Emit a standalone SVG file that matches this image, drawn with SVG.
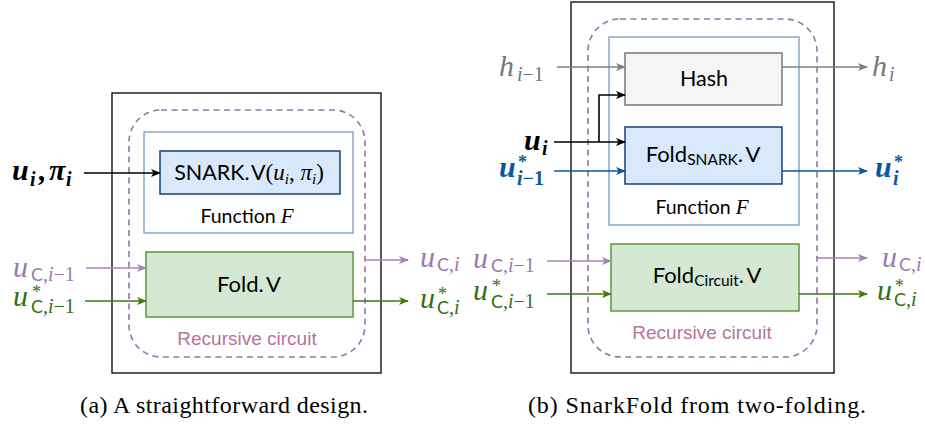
<svg xmlns="http://www.w3.org/2000/svg" width="925" height="429" viewBox="0 0 925 429">
  <defs>
    <style>
      .frame { fill: #ffffff; stroke: #000000; stroke-width: 1.3; }
      .dash { fill: none; stroke: #9673a6; stroke-width: 1.6; stroke-dasharray: 6 4.5; }
      .func { fill: #ffffff; stroke: #6c8ebf; stroke-width: 1.2; }
      .blue { fill: #dae8fc; stroke: #173f78; stroke-width: 1.5; }
      .green { fill: #d5e8d4; stroke: #5f9640; stroke-width: 1.5; }
      .gray { fill: #f5f5f5; stroke: #777777; stroke-width: 1.5; }
      .w { fill: none; stroke-width: 1.6; }
      .k { stroke: #000000; }
      .g { stroke: #808080; }
      .b { stroke: #0b56a4; }
      .p { stroke: #a680b8; }
      .gr { stroke: #3c7a12; }
      .sans { font-family: Lato, "Open Sans", sans-serif; fill: #000000; }
      .lbl { font-family: "Liberation Sans", Arial, sans-serif; font-size: 19px; fill: #b5739d; }
      .m { font-family: "Liberation Serif", serif; font-style: italic; font-size: 30px; }
      .s { font-size: 20px; }
      .up { font-style: normal; }
      .sc { font-family: Lato, sans-serif; font-style: normal; font-size: 18px; }
      .st { font-style: normal; font-size: 18px; }
      .bd { font-weight: bold; }
      .cap { font-family: "Liberation Serif", serif; font-size: 24px; fill: #000000; }
      .tp { fill: #9b77b0; }
      .tg { fill: #2f7010; }
      .tb { fill: #0b56a4; }
      .th { fill: #777777; }
    </style>
    <marker id="ak" viewBox="0 0 10 8" refX="9" refY="4" markerWidth="10" markerHeight="8" markerUnits="userSpaceOnUse" orient="auto">
      <path d="M0,0 L10,4 L0,8 L2.5,4 z" fill="#000000"/>
    </marker>
    <marker id="ag" viewBox="0 0 10 8" refX="9" refY="4" markerWidth="10" markerHeight="8" markerUnits="userSpaceOnUse" orient="auto">
      <path d="M0,0 L10,4 L0,8 L2.5,4 z" fill="#808080"/>
    </marker>
    <marker id="ab" viewBox="0 0 10 8" refX="9" refY="4" markerWidth="10" markerHeight="8" markerUnits="userSpaceOnUse" orient="auto">
      <path d="M0,0 L10,4 L0,8 L2.5,4 z" fill="#0b56a4"/>
    </marker>
    <marker id="ap" viewBox="0 0 10 8" refX="9" refY="4" markerWidth="10" markerHeight="8" markerUnits="userSpaceOnUse" orient="auto">
      <path d="M0,0 L10,4 L0,8 L2.5,4 z" fill="#a680b8"/>
    </marker>
    <marker id="agr" viewBox="0 0 10 8" refX="9" refY="4" markerWidth="10" markerHeight="8" markerUnits="userSpaceOnUse" orient="auto">
      <path d="M0,0 L10,4 L0,8 L2.5,4 z" fill="#3c7a12"/>
    </marker>
  </defs>

  <rect width="925" height="429" fill="#ffffff"/>

  <!-- ===== Panel (a): straightforward design ===== -->
  <g id="a-frame"><rect class="frame" x="112" y="93" width="269" height="280"/></g>
  <g id="a-recursive">
    <rect class="dash" x="129" y="110" width="236" height="247" rx="32" ry="32"/>
    <text class="lbl" x="247" y="345" text-anchor="middle">Recursive circuit</text>
  </g>
  <g id="a-function">
    <rect class="func" x="144" y="132" width="209" height="101"/>
    <text class="sans" x="247" y="223" text-anchor="middle" font-size="19.5"><tspan>Function </tspan><tspan font-family="Liberation Serif, serif" font-style="italic" font-size="21">F</tspan></text>
  </g>
  <g id="a-snark">
    <rect class="blue" x="160" y="151" width="180" height="43"/>
    <text x="249" y="180" text-anchor="middle"><tspan class="sans" font-size="21.5">SNARK.</tspan><tspan class="sans" font-size="21.5" dx="3">V</tspan><tspan font-family="Liberation Serif, serif" font-size="23">(</tspan><tspan font-family="Liberation Serif, serif" font-style="italic" font-size="23">u</tspan><tspan font-family="Liberation Serif, serif" font-style="italic" font-size="15" dy="4">i</tspan><tspan font-family="Liberation Serif, serif" font-size="23" dy="-4">, </tspan><tspan font-family="Liberation Serif, serif" font-style="italic" font-size="23">π</tspan><tspan font-family="Liberation Serif, serif" font-style="italic" font-size="15" dy="4">i</tspan><tspan font-family="Liberation Serif, serif" font-size="23" dy="-4">)</tspan></text>
  </g>
  <g id="a-fold">
    <rect class="green" x="146" y="252" width="207" height="65"/>
    <text x="249" y="292" text-anchor="middle"><tspan class="sans" font-size="22">Fold.</tspan><tspan class="sans" font-size="22" dx="4">V</tspan></text>
  </g>

  <g id="a-connectors">
    <line class="w k" x1="84" y1="173" x2="160" y2="173" marker-end="url(#ak)"/>
    <line class="w p" x1="86" y1="268" x2="146" y2="268" marker-end="url(#ap)"/>
    <line class="w gr" x1="85" y1="301" x2="146" y2="301" marker-end="url(#agr)"/>
    <line class="w p" x1="365" y1="260" x2="408" y2="260" marker-end="url(#ap)"/>
    <line class="w gr" x1="353" y1="301" x2="408" y2="301" marker-end="url(#agr)"/>
  </g>

  <g id="a-labels">
    <text class="m bd">
      <tspan x="12" y="180">u</tspan><tspan class="s" x="30" y="186">i</tspan><tspan x="39" y="180">,</tspan><tspan x="49" y="180">π</tspan><tspan class="s" x="66" y="186">i</tspan>
    </text>
    <text class="m tp">
      <tspan x="13" y="277">u</tspan><tspan class="sc" x="31" y="281">C</tspan><tspan class="s up">,</tspan><tspan class="s">i</tspan><tspan class="s up">−1</tspan>
    </text>
    <text class="m tg">
      <tspan x="13" y="306">u</tspan><tspan class="st" x="32" y="298">*</tspan><tspan class="sc" x="31" y="313">C</tspan><tspan class="s up">,</tspan><tspan class="s">i</tspan><tspan class="s up">−1</tspan>
    </text>
    <text class="m tp">
      <tspan x="420" y="267">u</tspan><tspan class="sc" x="437" y="271">C</tspan><tspan class="s up">,</tspan><tspan class="s">i</tspan>
    </text>
    <text class="m tg">
      <tspan x="420" y="308">u</tspan><tspan class="st" x="438" y="300">*</tspan><tspan class="sc" x="437" y="314">C</tspan><tspan class="s up">,</tspan><tspan class="s">i</tspan>
    </text>
  </g>

  <!-- ===== Panel (b): SnarkFold from two-folding ===== -->
  <g id="b-frame"><rect class="frame" x="571" y="2" width="263" height="371"/></g>
  <g id="b-recursive">
    <rect class="dash" x="588" y="19" width="229" height="338" rx="32" ry="32"/>
    <text class="lbl" x="702" y="339" text-anchor="middle">Recursive circuit</text>
  </g>
  <g id="b-function">
    <rect class="func" x="609" y="37" width="190" height="188"/>
    <text class="sans" x="702" y="214" text-anchor="middle" font-size="19.5"><tspan>Function </tspan><tspan font-family="Liberation Serif, serif" font-style="italic" font-size="21">F</tspan></text>
  </g>
  <g id="b-hash">
    <rect class="gray" x="625" y="53" width="157" height="52"/>
    <text class="sans" x="704" y="86" text-anchor="middle" font-size="21.5" fill="#222222">Hash</text>
  </g>
  <g id="b-foldsnark">
    <rect class="blue" x="625" y="127" width="157" height="57"/>
    <text x="703" y="162" text-anchor="middle"><tspan class="sans" font-size="22">Fold</tspan><tspan class="sans" font-size="15.5" dy="3">SNARK</tspan><tspan class="sans" font-size="22" dy="-3">.</tspan><tspan class="sans" font-size="22" dx="4">V</tspan></text>
  </g>
  <g id="b-foldcircuit">
    <rect class="green" x="611" y="244" width="188" height="67"/>
    <text x="707" y="283" text-anchor="middle"><tspan class="sans" font-size="22">Fold</tspan><tspan class="sans" font-size="15.5" dy="3">Circuit</tspan><tspan class="sans" font-size="22" dy="-3">.</tspan><tspan class="sans" font-size="22" dx="4">V</tspan></text>
  </g>

  <g id="b-connectors">
    <line class="w g" x1="557" y1="67" x2="625" y2="67" marker-end="url(#ag)"/>
    <line class="w g" x1="782" y1="67" x2="867" y2="67" marker-end="url(#ag)"/>
    <line class="w k" x1="554" y1="142" x2="625" y2="142" marker-end="url(#ak)"/>
    <polyline class="w k" points="599,142 599,95 625,95" marker-end="url(#ak)"/>
    <line class="w b" x1="554" y1="171" x2="625" y2="171" marker-end="url(#ab)"/>
    <line class="w b" x1="782" y1="171" x2="867" y2="171" marker-end="url(#ab)"/>
    <line class="w p" x1="547" y1="261" x2="611" y2="261" marker-end="url(#ap)"/>
    <line class="w gr" x1="547" y1="294" x2="611" y2="294" marker-end="url(#agr)"/>
    <line class="w p" x1="817" y1="258" x2="867" y2="258" marker-end="url(#ap)"/>
    <line class="w gr" x1="799" y1="294" x2="867" y2="294" marker-end="url(#agr)"/>
  </g>

  <g id="b-labels">
    <text class="m th">
      <tspan x="499" y="76">h</tspan><tspan class="s" x="517" y="81">i</tspan><tspan class="s up">−1</tspan>
    </text>
    <text class="m th">
      <tspan x="872" y="76">h</tspan><tspan class="s" x="889" y="81">i</tspan>
    </text>
    <text class="m bd">
      <tspan x="524" y="150">u</tspan><tspan class="s" x="542" y="155">i</tspan>
    </text>
    <text class="m bd tb">
      <tspan x="499" y="177">u</tspan><tspan class="st" x="518" y="168">*</tspan><tspan class="s" x="517" y="185">i</tspan><tspan class="s up">−1</tspan>
    </text>
    <text class="m bd tb">
      <tspan x="875" y="177">u</tspan><tspan class="st" x="894" y="168">*</tspan><tspan class="s" x="893" y="185">i</tspan>
    </text>
    <text class="m tp">
      <tspan x="473" y="268">u</tspan><tspan class="sc" x="491" y="272">C</tspan><tspan class="s up">,</tspan><tspan class="s">i</tspan><tspan class="s up">−1</tspan>
    </text>
    <text class="m tg">
      <tspan x="473" y="300">u</tspan><tspan class="st" x="492" y="292">*</tspan><tspan class="sc" x="491" y="308">C</tspan><tspan class="s up">,</tspan><tspan class="s">i</tspan><tspan class="s up">−1</tspan>
    </text>
    <text class="m tp">
      <tspan x="882" y="267">u</tspan><tspan class="sc" x="899" y="271">C</tspan><tspan class="s up">,</tspan><tspan class="s">i</tspan>
    </text>
    <text class="m tg">
      <tspan x="877" y="300">u</tspan><tspan class="st" x="895" y="292">*</tspan><tspan class="sc" x="894" y="306">C</tspan><tspan class="s up">,</tspan><tspan class="s">i</tspan>
    </text>
  </g>

  <!-- captions -->
  <text class="cap" x="80" y="413" textLength="288" lengthAdjust="spacing">(a) A straightforward design.</text>
  <text class="cap" x="528" y="413" textLength="338" lengthAdjust="spacing">(b) SnarkFold from two-folding.</text>
</svg>
